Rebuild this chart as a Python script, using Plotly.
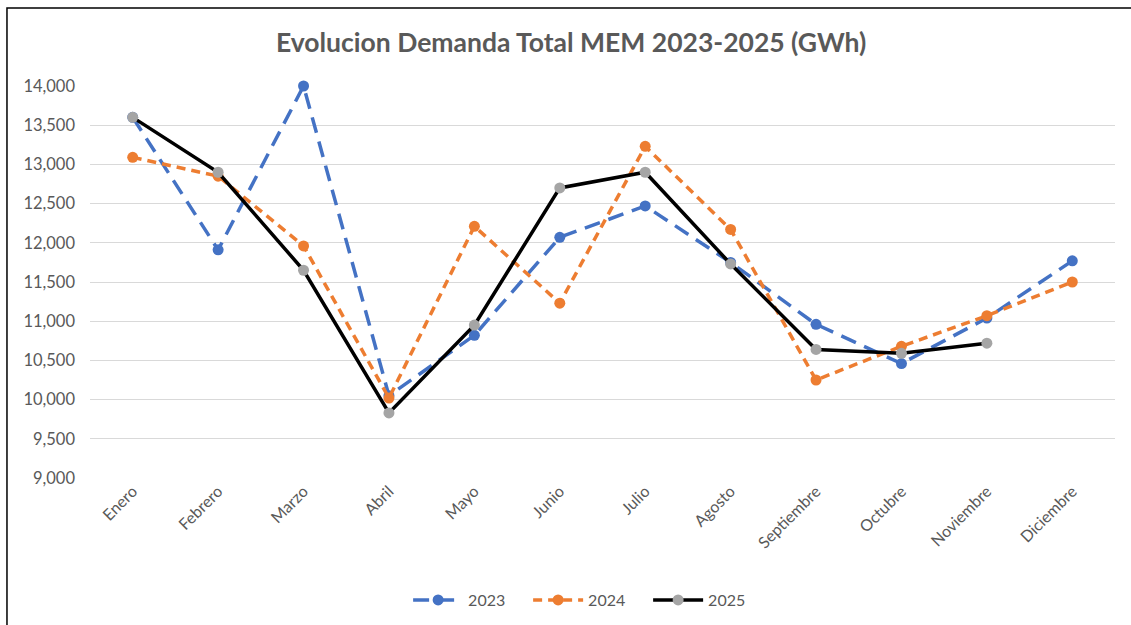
import plotly.graph_objects as go

months = ["Enero", "Febrero", "Marzo", "Abril", "Mayo", "Junio", "Julio",
          "Agosto", "Septiembre", "Octubre", "Noviembre", "Diciembre"]
y2023 = [13600, 11910, 14000, 10050, 10820, 12070, 12470, 11750, 10960, 10460, 11040, 11770]
y2024 = [13090, 12850, 11960, 10020, 12210, 11230, 13230, 12170, 10250, 10680, 11070, 11500]
y2025 = [13600, 12900, 11650, 9830, 10950, 12700, 12900, 11730, 10640, 10590, 10720]
title_text = "Evolucion Demanda Total MEM 2023-2025 (GWh)"

FONT = "Lato"
GREY = "#595959"

fig = go.Figure()
fig.add_trace(go.Scatter(
    x=months, y=y2023, name="2023", mode="lines+markers", cliponaxis=False,
    line=dict(color="#4472C4", width=3.5, dash="16px,9px"),
    marker=dict(color="#4472C4", size=11)))
fig.add_trace(go.Scatter(
    x=months, y=y2024, name="2024", mode="lines+markers", cliponaxis=False,
    line=dict(color="#ED7D31", width=3.5, dash="9px,6px"),
    marker=dict(color="#ED7D31", size=11)))
fig.add_trace(go.Scatter(
    x=months[:len(y2025)], y=y2025, name="2025", mode="lines+markers", cliponaxis=False,
    line=dict(color="#000000", width=3.5),
    marker=dict(color="#A5A5A5", size=11)))

fig.update_layout(
    width=1131, height=625,
    margin=dict(l=90, r=16, t=86, b=147),
    paper_bgcolor="white", plot_bgcolor="white",
    font=dict(family=FONT, color=GREY, size=16),
    title=dict(text="<b>" + title_text + "</b>", x=0.505, xref="container",
               y=1 - 43 / 625, yref="container", yanchor="middle",
               font=dict(family=FONT, size=26.5, color=GREY)),
    showlegend=True,
    legend=dict(orientation="h", x=0.52, xref="container", xanchor="center",
                y=1 - 600 / 625, yref="container", yanchor="middle",
                font=dict(family=FONT, size=16, color=GREY), itemwidth=50,
                entrywidth=55, entrywidthmode="pixels",
                traceorder="normal"),
    xaxis=dict(type="category", categoryorder="array", categoryarray=months,
               range=[-0.5, 11.5], showgrid=False, showline=False, zeroline=False,
               tickangle=-45, ticks="", tickfont=dict(family=FONT, size=16, color=GREY)),
    yaxis=dict(range=[9000, 14000], dtick=500, tickformat=",d", showgrid=True,
               gridcolor="#D9D9D9", gridwidth=1, zeroline=False, showline=False,
               ticks="", ticklen=0, ticklabelstandoff=14,
               tickfont=dict(family=FONT, size=16.5, color=GREY)),
    shapes=[dict(type="rect", xref="paper", yref="paper",
                 x0=-0.081, x1=1.2, y0=-0.60, y1=1.199,
                 line=dict(color="#000000", width=1.5), layer="below")],
)

fig.write_html("out.html", config={"displayModeBar": False},
               post_script="document.body.style.margin='0';")
